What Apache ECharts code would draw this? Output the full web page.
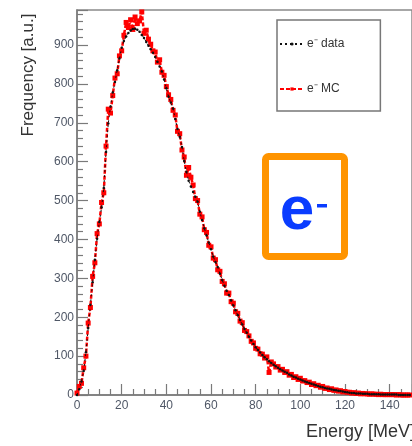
<!DOCTYPE html>
<html>
<head>
<meta charset="utf-8">
<script src="https://cdn.jsdelivr.net/npm/echarts@6/dist/echarts.min.js"></script>
<style>
  html, body { margin: 0; padding: 0; background: #fff; }
  #chart { width: 412px; height: 446px; }
</style>
</head>
<body>
<div id="chart"></div>
<script>
// Energy spectrum of electrons: measured data vs. Monte Carlo, 1 MeV bins starting at 0 MeV
const dataCounts = [
  0, 15, 35, 62, 110, 172, 232, 290, 348, 402,
  445, 482, 532, 625, 698, 742, 778, 805, 835, 865,
  893, 910, 922, 931, 937, 941, 942, 939, 934, 926,
  918, 908, 898, 889, 880, 869, 857, 845, 832, 811,
  789, 767, 752, 737, 710, 684, 664, 638, 602, 574,
  551, 536, 522, 510, 497, 471, 450, 429, 410, 392,
  375, 356, 342, 329, 312, 296, 281, 268, 257, 243,
  230, 218, 205, 193, 181, 170, 160, 150, 140, 131,
  123, 116, 109, 103, 97, 92, 87, 82, 78, 74,
  70, 66, 63, 60, 57, 53, 50, 47, 45, 42,
  40, 37, 35, 33, 31, 29, 27, 25, 23, 21,
  20, 18, 17, 16, 14, 13, 12, 11, 10, 9,
  8, 7, 6, 5, 5, 4, 4, 4, 3, 3,
  3, 2, 2, 2, 2, 2, 1, 1, 1, 1,
  1, 1, 1, 1, 0, 0, 0, 0, 0, 0
];
const mcCounts = [
  5, 22, 30, 70, 100, 185, 225, 305, 340, 415,
  440, 495, 520, 640, 735, 725, 770, 815, 826, 872,
  885, 925, 958, 945, 965, 940, 972, 955, 962, 985,
  930, 938, 915, 902, 885, 882, 856, 862, 830, 822,
  793, 772, 760, 732, 720, 678, 672, 630, 612, 565,
  585, 560, 540, 505, 500, 465, 458, 425, 418, 385,
  381, 352, 348, 322, 318, 292, 286, 262, 262, 240,
  236, 214, 210, 190, 186, 166, 163, 152, 138, 134,
  120, 118, 106, 105, 95, 98, 58, 85, 80, 72,
  73, 64, 66, 58, 60, 51, 53, 45, 47, 40,
  43, 36, 37, 32, 33, 27, 29, 24, 25, 20,
  22, 17, 18, 14, 16, 12, 13, 10, 11, 8,
  9, 7, 7, 5, 6, 4, 5, 3, 4, 3,
  3, 2, 3, 2, 2, 1, 2, 1, 1, 1,
  1, 1, 1, 0, 1, 0, 0, 0, 0, 0
];
const seriesNames = ['e\u207b data', 'e\u207b MC'];
const xTitle = 'Energy [MeV]';
const yTitle = 'Frequency [a.u.]';
const badgeText = 'e';

const toPairs = arr => arr.map((v, i) => [i, v]);

const chart = echarts.init(document.getElementById('chart'), null, { renderer: 'canvas' });

const axisColor = '#7a7a7a';
const fontFamily = 'Liberation Sans, Arial, sans-serif';
const labelStyle = { color: '#4f5766', fontSize: 12, fontFamily: fontFamily };

chart.setOption({
  animation: false,
  backgroundColor: '#ffffff',
  grid: {
    left: 77, right: -6, top: 10, bottom: 51,
    show: true, borderColor: '#8a8a8a', borderWidth: 1.5, backgroundColor: 'transparent'
  },
  xAxis: {
    type: 'value', min: 0, max: 150, interval: 20,
    axisLine: { show: true, lineStyle: { color: axisColor, width: 1.5 } },
    axisTick: { show: true, inside: true, length: 11, lineStyle: { color: axisColor, width: 1.2 } },
    minorTick: { show: true, splitNumber: 4, length: 6, lineStyle: { color: axisColor, width: 1.2 } },
    axisLabel: Object.assign({ margin: 5, showMaxLabel: false }, labelStyle),
    splitLine: { show: false }
  },
  yAxis: {
    type: 'value', min: 0, max: 990, interval: 100,
    axisLine: { show: true, lineStyle: { color: axisColor, width: 1.5 } },
    axisTick: { show: true, inside: true, length: 11, lineStyle: { color: axisColor, width: 1.2 } },
    minorTick: { show: true, splitNumber: 5, length: 6, lineStyle: { color: axisColor, width: 1.2 } },
    axisLabel: Object.assign({ margin: 3, showMaxLabel: false }, labelStyle),
    splitLine: { show: false }
  },
  legend: {
    data: seriesNames,
    orient: 'vertical',
    left: 277, top: 20,
    padding: [18, 36, 16, 2],
    itemGap: 33,
    itemWidth: 24, itemHeight: 4,
    borderColor: '#777', borderWidth: 1.5, borderRadius: 0,
    backgroundColor: '#fff',
    textStyle: { color: '#333', fontSize: 12, fontFamily: fontFamily, padding: [0, 0, 0, -2] }
  },
  series: [
    {
      name: seriesNames[1],
      type: 'line',
      data: toPairs(mcCounts),
      symbol: 'rect', symbolSize: 5,
      itemStyle: { color: '#ff0000' },
      lineStyle: { color: '#ff0000', width: 2.5, type: [4, 2] },
      z: 2
    },
    {
      name: seriesNames[0],
      type: 'line',
      data: toPairs(dataCounts),
      symbol: 'circle', symbolSize: 2.5,
      itemStyle: { color: '#111' },
      lineStyle: { color: '#111', width: 1, type: [2, 3] },
      z: 3
    }
  ],
  graphic: [
    {
      type: 'text', x: 28, y: 75, rotation: Math.PI / 2,
      style: {
        text: yTitle, fill: '#333', fontSize: 17, fontFamily: fontFamily,
        textAlign: 'center', textVerticalAlign: 'middle'
      }
    },
    {
      type: 'text', x: 306, y: 432,
      style: {
        text: xTitle, fill: '#333', fontSize: 18, fontFamily: fontFamily,
        textAlign: 'left', textVerticalAlign: 'middle'
      }
    },
    {
      type: 'rect',
      shape: { x: 265.5, y: 156.5, width: 79, height: 100, r: 3 },
      style: { fill: '#fff', stroke: '#ff9400', lineWidth: 7 }
    },
    {
      type: 'text', x: 297, y: 212,
      style: {
        text: badgeText, fill: '#0a3cff', fontSize: 62, fontWeight: 'bold', fontFamily: fontFamily,
        textAlign: 'center', textVerticalAlign: 'middle'
      }
    },
    {
      type: 'rect',
      shape: { x: 317, y: 204, width: 10, height: 3.5 },
      style: { fill: '#0a3cff' }
    }
  ]
});
</script>
</body>
</html>
